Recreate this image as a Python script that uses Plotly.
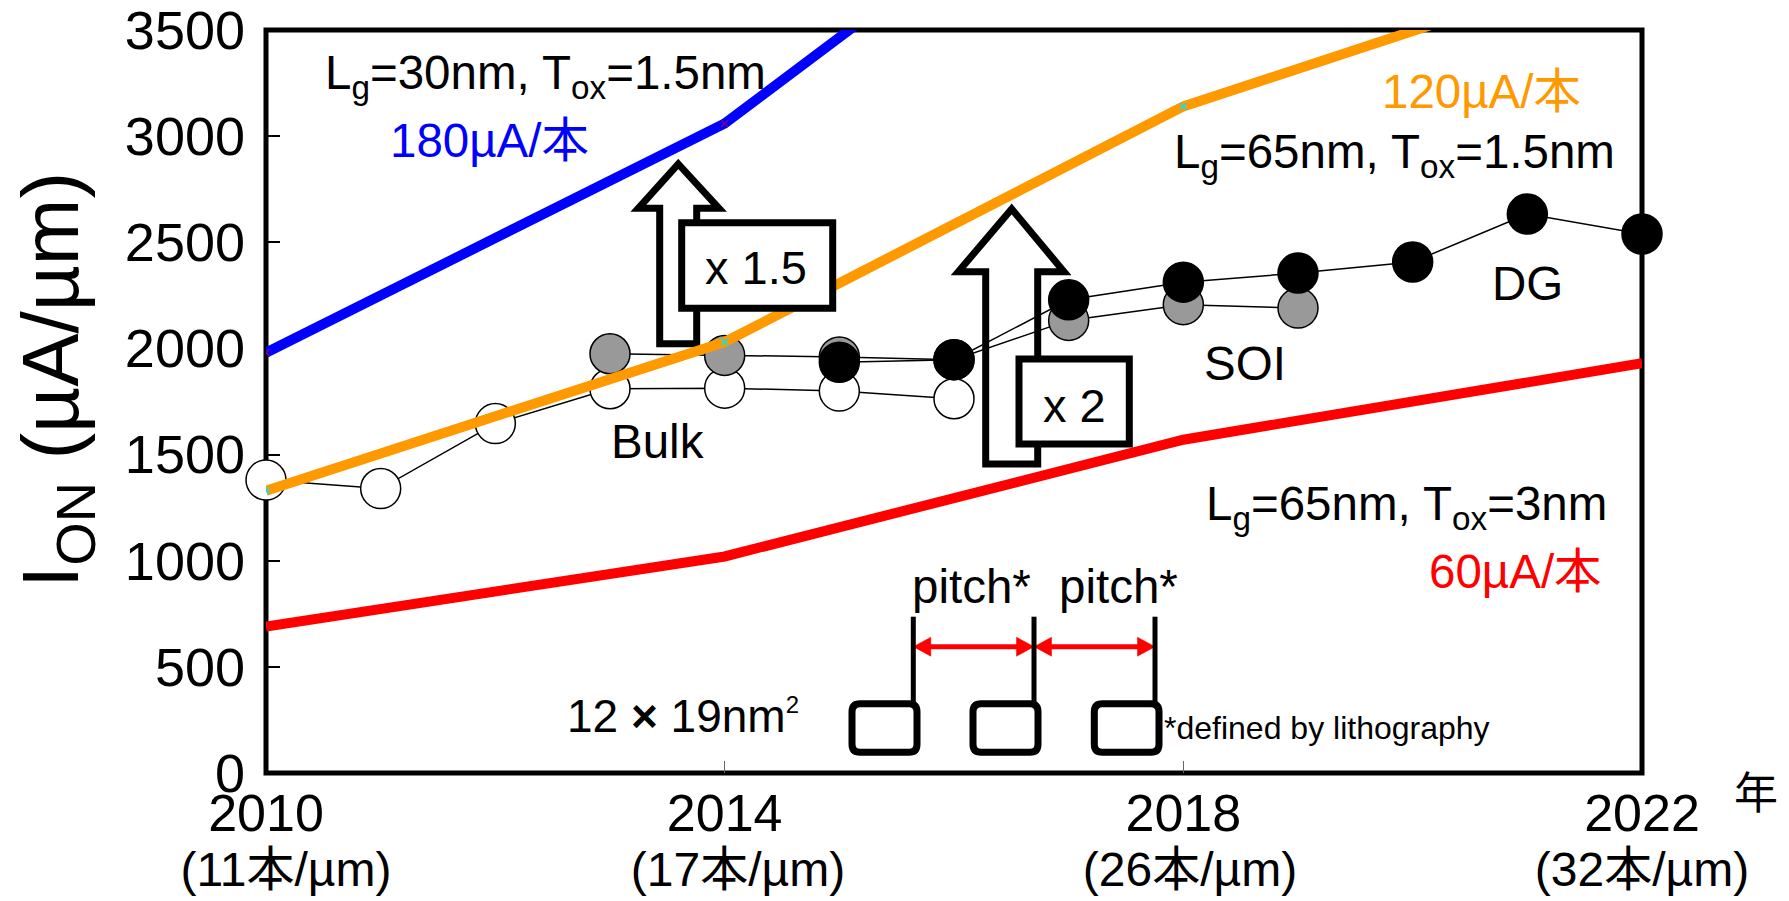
import plotly.graph_objects as go

# ---------------- data ----------------
axis_years = [2010, 2014, 2018, 2022]
fin_density = ["11本/µm", "17本/µm", "26本/µm", "32本/µm"]
label_shift = [3, 2, 1, 0]          # nbsp padding of the 2nd tick-label line
y_ticks = [0, 500, 1000, 1500, 2000, 2500, 3000, 3500]

trend_years = [2010, 2014, 2018, 2022]
ion_lg30_tox15 = [1980, 3060, 4680, 5760]   # 180 µA/本
ion_lg65_tox15 = [1330, 2030, 3140, 3850]   # 120 µA/本
ion_lg65_tox3 = [690, 1020, 1570, 1930]     # 60 µA/本

bulk_years = [2010, 2011, 2012, 2013, 2014, 2015, 2016]
bulk_ion = [1380, 1340, 1646, 1810, 1813, 1799, 1763]
soi_years = [2013, 2014, 2015, 2016, 2017, 2018, 2019]
soi_ion = [1975, 1967, 1960, 1947, 2132, 2206, 2190]
dg_years = [2015, 2016, 2017, 2018, 2019, 2020, 2021, 2022]
dg_ion = [1935, 1947, 2229, 2312, 2355, 2407, 2633, 2539]

# ---------------- geometry helpers (pixel -> data) ----------------
W, H = 1789, 901
PL, PR, PT, PB = 266, 1642, 30, 773
X0, X1, Y0, Y1 = 2010, 2022, 0, 3500


def dx(px):
    return X0 + (px - PL) / (PR - PL) * (X1 - X0)


def dy(py):
    return Y0 + (PB - py) / (PB - PT) * (Y1 - Y0)


def paper_x(px):
    return (px - PL) / (PR - PL)


def paper_y(py):
    return (PB - py) / (PB - PT)


def path(points, close=True):
    s = "M " + " L ".join(f"{dx(x)},{dy(y)}" for x, y in points)
    return s + (" Z" if close else "")


def rounded_rect(x0, y0, x1, y1, r):
    p = lambda x, y: f"{dx(x)},{dy(y)}"
    return (f"M {p(x0 + r, y0)} L {p(x1 - r, y0)} Q {p(x1, y0)} {p(x1, y0 + r)} "
            f"L {p(x1, y1 - r)} Q {p(x1, y1)} {p(x1 - r, y1)} "
            f"L {p(x0 + r, y1)} Q {p(x0, y1)} {p(x0, y1 - r)} "
            f"L {p(x0, y0 + r)} Q {p(x0, y0)} {p(x0 + r, y0)} Z")


FONT = "Liberation Sans, Arial, Noto Sans CJK JP, sans-serif"

fig = go.Figure()

# circle series
for xs, ys, fillc in [(bulk_years, bulk_ion, "white"),
                      (soi_years, soi_ion, "#999999"),
                      (dg_years, dg_ion, "black")]:
    fig.add_trace(go.Scatter(
        x=xs, y=ys, mode="lines+markers", cliponaxis=False,
        line=dict(color="black", width=1.5),
        marker=dict(size=40, color=fillc, line=dict(color="black", width=1.5)),
        showlegend=False, hoverinfo="skip"))

# trend lines
for ys, col, mcol in [(ion_lg65_tox3, "#FF0000", "#FF0000"),
                      (ion_lg65_tox15, "#FF9900", "#00E5FF"),
                      (ion_lg30_tox15, "#0000FF", "#800080")]:
    fig.add_trace(go.Scatter(
        x=trend_years, y=ys, mode="lines+markers",
        line=dict(color=col, width=10),
        marker=dict(symbol="x-thin", size=7, line=dict(color=mcol, width=1.5)),
        showlegend=False, hoverinfo="skip"))

shapes = []
# frame
shapes.append(dict(type="rect", xref="paper", yref="paper", x0=0, x1=1, y0=0, y1=1,
                   line=dict(color="black", width=5), layer="below"))
# x1.5 arrow
arrow1 = [(678.3, 164), (719, 208.3), (696.7, 208.3), (696.7, 343.7),
          (659.7, 343.7), (659.7, 208.3), (638.3, 208.3)]
shapes.append(dict(type="path", path=path(arrow1), xref="x", yref="y",
                   fillcolor="white", line=dict(color="black", width=7), layer="below"))
# x2 arrow
arrow2 = [(1011.7, 209), (1064, 271.7), (1037.7, 271.7), (1037.7, 464),
          (985.7, 464), (985.7, 271.7), (958.3, 271.7)]
shapes.append(dict(type="path", path=path(arrow2), xref="x", yref="y",
                   fillcolor="white", line=dict(color="black", width=7), layer="below"))
# boxes
for (a, b, c, d) in [(681.7, 222.7, 832.7, 308.3), (1019, 359, 1129.3, 444)]:
    shapes.append(dict(type="rect", xref="x", yref="y", x0=dx(a), x1=dx(c), y0=dy(d), y1=dy(b),
                       fillcolor="white", line=dict(color="black", width=7), layer="above"))

# pitch sketch
for (a, c) in [(852, 917), (973, 1038), (1094.3, 1159)]:
    shapes.append(dict(type="path", path=rounded_rect(a, 703.7, c, 752.3, 8), xref="x", yref="y",
                       line=dict(color="black", width=7), layer="above"))
ya = 646.7
for (a, c) in [(913.3, 1034), (1034, 1155)]:
    shapes.append(dict(type="path", path=path([(a + 14, ya), (c - 14, ya)], close=False),
                       xref="x", yref="y", line=dict(color="#FF0000", width=5), layer="above"))
    shapes.append(dict(type="path", path=path([(a, ya), (a + 17.5, ya - 9.5), (a + 17.5, ya + 9.5)]),
                       xref="x", yref="y", fillcolor="#FF0000", line=dict(color="#FF0000", width=0.5),
                       layer="above"))
    shapes.append(dict(type="path", path=path([(c, ya), (c - 17.5, ya - 9.5), (c - 17.5, ya + 9.5)]),
                       xref="x", yref="y", fillcolor="#FF0000", line=dict(color="#FF0000", width=0.5),
                       layer="above"))
for xv in [913.3, 1034, 1155]:
    shapes.append(dict(type="line", xref="x", yref="y", x0=dx(xv), x1=dx(xv), y0=dy(616.7), y1=dy(704),
                       line=dict(color="black", width=5), layer="above"))

labels = [
    ("L<sub>g</sub>=30nm, T<sub>ox</sub>=1.5nm", 545, 76, 47.5, "black"),
    ("180µA/本", 489, 140, 47.5, "#0000FF"),
    ("120µA/本", 1481, 91, 47.5, "#FF9900"),
    ("L<sub>g</sub>=65nm, T<sub>ox</sub>=1.5nm", 1394, 155, 47.5, "black"),
    ("DG", 1527, 283, 47.5, "black"),
    ("SOI", 1245, 363, 47.5, "black"),
    ("Bulk", 657, 441, 47.5, "black"),
    ("L<sub>g</sub>=65nm, T<sub>ox</sub>=3nm", 1406, 507, 47.5, "black"),
    ("60µA/本", 1515, 571, 47.5, "#FF0000"),
    ("pitch*", 971, 586, 47.5, "black"),
    ("pitch*", 1118, 586, 47.5, "black"),
    ("12 <b>×</b> 19nm<sup><span style='font-size:24px'>2</span></sup>", 683, 716, 46, "black"),
    ("*defined by lithography", 1327, 728, 32, "black"),
    ("x 1.5", 756, 267, 47, "black"),
    ("x 2", 1074, 405, 47, "black"),
]
annotations = []
for text, cx, cy, size, col in labels:
    annotations.append(dict(text=text, x=dx(cx), y=dy(cy), xref="x", yref="y",
                            showarrow=False, xanchor="center", yanchor="middle",
                            font=dict(size=size, color=col, family=FONT)))
# unit label for the x axis (outside the plot area)
annotations.append(dict(text="年", x=paper_x(1756), y=paper_y(794), xref="paper", yref="paper",
                        showarrow=False, xanchor="center", yanchor="middle",
                        font=dict(size=44, color="black", family=FONT)))
# y-axis title
annotations.append(dict(text="I<sub>ON</sub> (µA/µm)", x=paper_x(56), y=paper_y(380),
                        xref="paper", yref="paper", textangle=-90,
                        showarrow=False, xanchor="center", yanchor="middle",
                        font=dict(size=80, color="black", family=FONT)))

ticktext = [f"<span style='font-size:52px'>{yr}</span><br>"
            f"<span style='font-size:48px'>{chr(160) * n}({d})</span>"
            for yr, d, n in zip(axis_years, fin_density, label_shift)]

fig.update_layout(
    template="none",
    width=W, height=H,
    margin=dict(l=PL, r=W - PR, t=PT, b=H - PB, pad=0),
    paper_bgcolor="white", plot_bgcolor="rgba(0,0,0,0)",
    font=dict(family=FONT, color="black"),
    showlegend=False,
    shapes=shapes,
    annotations=annotations,
    xaxis=dict(range=[X0, X1], tickvals=axis_years, ticktext=ticktext,
               tickfont=dict(size=42, color="black", family=FONT),
               ticks="inside", ticklen=12, tickwidth=1, tickcolor="#666666",
               ticklabelstandoff=15, ticklabeloverflow="allow",
               showline=False, showgrid=False, zeroline=False, automargin=False,
               layer="below traces"),
    yaxis=dict(range=[Y0, Y1], tickvals=y_ticks,
               tickfont=dict(size=54, color="black", family=FONT),
               ticks="inside", ticklen=14, tickwidth=1.5, tickcolor="black",
               ticklabelstandoff=20, ticklabeloverflow="allow",
               showline=False, showgrid=False, zeroline=False, automargin=False,
               layer="below traces"),
)

fig.write_html("out.html", config={"displayModeBar": False},
               post_script="document.body.style.margin='0';document.body.style.overflow='hidden';")
